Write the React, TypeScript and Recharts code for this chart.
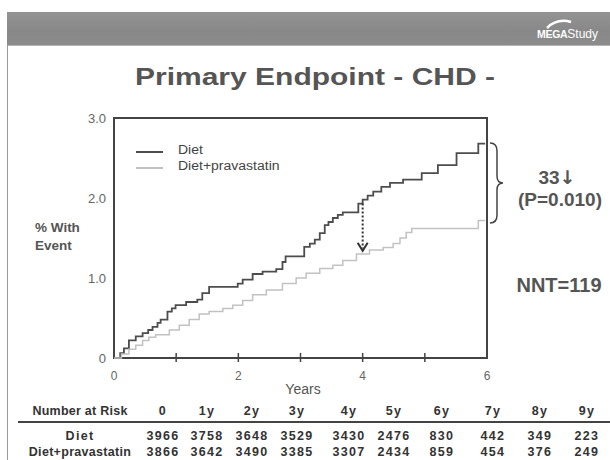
import React from 'react';
import { LineChart, Line, XAxis, YAxis, Legend, ReferenceArea, ReferenceLine, ReferenceDot } from 'recharts';

// cumulative % with CHD event
const dietYears = [0, 0.1, 0.16, 0.24, 0.35, 0.46, 0.55, 0.62, 0.7, 0.75, 0.86, 0.93, 0.99, 1.16, 1.34, 1.42, 1.53, 1.99, 2.07, 2.23, 2.39, 2.61, 2.71, 2.76, 3.06, 3.15, 3.23, 3.31, 3.39, 3.45, 3.52, 3.6, 3.68, 3.93, 4.0, 4.08, 4.17, 4.3, 4.44, 4.65, 4.95, 5.21, 5.51, 5.86, 5.97];
const dietPct = [0, 0.06, 0.12, 0.22, 0.27, 0.31, 0.35, 0.39, 0.44, 0.48, 0.58, 0.62, 0.66, 0.7, 0.73, 0.81, 0.89, 0.93, 0.98, 1.05, 1.08, 1.11, 1.2, 1.27, 1.39, 1.43, 1.48, 1.56, 1.66, 1.7, 1.75, 1.79, 1.82, 1.93, 1.98, 2.03, 2.08, 2.14, 2.19, 2.23, 2.31, 2.41, 2.56, 2.68, 2.68];

const pravaYears = [0, 0.12, 0.24, 0.35, 0.46, 0.56, 0.67, 0.89, 1.05, 1.21, 1.37, 1.53, 1.75, 1.91, 2.07, 2.23, 2.45, 2.71, 2.93, 3.09, 3.31, 3.52, 3.68, 3.9, 4.11, 4.33, 4.49, 4.6, 4.7, 4.79, 5.86, 5.97];
const pravaPct = [0, 0.05, 0.11, 0.16, 0.22, 0.26, 0.29, 0.35, 0.41, 0.48, 0.55, 0.58, 0.62, 0.66, 0.72, 0.79, 0.85, 0.93, 1.0, 1.06, 1.12, 1.16, 1.22, 1.3, 1.35, 1.38, 1.43, 1.5, 1.57, 1.62, 1.72, 1.72];

const xTicks = [0, 1, 2, 3, 4, 5, 6];
const yTicks = [0, 1, 2, 3];

// number at risk table
const riskHeaders = ['0', '1y', '2y', '3y', '4y', '5y', '6y', '7y', '8y', '9y'];
const dietRisk = [3966, 3758, 3648, 3529, 3430, 2476, 830, 442, 349, 223];
const pravaRisk = [3866, 3642, 3490, 3385, 3307, 2434, 859, 454, 376, 249];
const riskCols = [163, 207, 252, 297, 349, 394, 442, 493, 540, 587];

const series = [
  { name: 'Diet', color: '#4d4d4d', width: 1.8, years: dietYears, pct: dietPct },
  { name: 'Diet+pravastatin', color: '#c2c2c2', width: 1.5, years: pravaYears, pct: pravaPct },
];

const FONT = '"Liberation Sans", Arial, sans-serif';

const Txt = ({ x, y, size, children, weight = 'normal', color = '#555', sx = 1, left = false, ls = 0 }: any) => (
  <div
    style={{
      position: 'absolute',
      left: x,
      top: y,
      transform: left ? `translate(0,-50%) scaleX(${sx})` : `translate(-50%,-50%) scaleX(${sx})`,
      transformOrigin: left ? 'left center' : 'center center',
      fontSize: size,
      fontWeight: weight,
      color,
      letterSpacing: ls,
      whiteSpace: 'nowrap',
      lineHeight: 1,
      fontFamily: FONT,
    }}
  >
    {children}
  </div>
);

const XTick = ({ x, y, payload }: any) => {
  const v = payload.value;
  return (
    <g>
      {v > 0 && v < 6 && <line x1={x} x2={x} y1={y - 5} y2={y + 4} stroke="#444" strokeWidth={1.5} />}
      {v % 2 === 0 && (
        <text x={x} y={y + 22} textAnchor="middle" fontSize={12} fill="#666">
          {v}
        </text>
      )}
    </g>
  );
};

const LegendBox = () => (
  <div style={{ fontFamily: FONT }}>
    {series.map((s, i) => (
      <div key={s.name} style={{ position: 'absolute', left: 0, top: i * 16, height: 16, width: 200 }}>
        <div style={{ position: 'absolute', left: 0, top: 8, width: 27, height: 0, borderTop: `2px solid ${s.color}` }} />
        <div
          style={{
            position: 'absolute',
            left: 42,
            top: 1,
            fontSize: 12.5,
            color: '#444',
            lineHeight: 1,
            whiteSpace: 'nowrap',
            transform: 'scaleX(1.12)',
            transformOrigin: 'left center',
          }}
        >
          {s.name}
        </div>
      </div>
    ))}
  </div>
);

const Chevron = ({ cx, cy }: any) => (
  <path d={`M ${cx - 5} ${cy - 8} L ${cx} ${cy} L ${cx + 5} ${cy - 8}`} fill="none" stroke="#333" strokeWidth={2} />
);

export default function App() {
  return (
    <div style={{ position: 'absolute', left: 0, top: 0, width: 610, height: 460, background: '#fff', overflow: 'hidden', fontFamily: FONT }}>
      {/* banner */}
      <div style={{ position: 'absolute', left: 7, top: 12, width: 603, height: 33, background: 'linear-gradient(180deg,#939393,#888 60%,#8c8c8c)', borderBottom: '1px solid #b5b5b5' }} />
      <svg style={{ position: 'absolute', left: 545, top: 18 }} width="30" height="12">
        <path d="M 2 10 Q 12 0 26 4" fill="none" stroke="#fff" strokeWidth={2.5} />
      </svg>
      <div style={{ position: 'absolute', left: 537, top: 25, color: '#fff', whiteSpace: 'nowrap', lineHeight: 1 }}>
        <span style={{ fontSize: 10.5, fontWeight: 'bold', letterSpacing: -0.3 }}>MEGA</span>
        <span style={{ fontSize: 12 }}>Study</span>
      </div>
      <div style={{ position: 'absolute', left: 7, top: 45, width: 1, height: 415, background: '#9c9c9c' }} />

      <Txt x={315} y={77} size={24} weight="bold" color="#555" sx={1.25}>Primary Endpoint - CHD -</Txt>

      <LineChart width={610} height={460} margin={{ top: 118, right: 123, bottom: 72, left: 74 }} style={{ position: 'absolute', left: 0, top: 0 }}>
        <XAxis type="number" dataKey="year" domain={[0, 6]} ticks={xTicks} axisLine={false} tickLine={false} tickSize={0} tickMargin={0} height={30} tick={<XTick />} interval={0} />
        <YAxis type="number" domain={[0, 3]} ticks={yTicks} axisLine={false} tickLine={false} tickSize={0} tickMargin={8} width={40} tick={{ fontSize: 13, fill: '#666' }} tickFormatter={(v: number) => (v === 0 ? '0' : v.toFixed(1))} />
        <ReferenceArea x1={0} x2={6} y1={0} y2={3} fill="none" stroke="#444" strokeWidth={2} fillOpacity={0} />
        {series.map((s) => (
          <Line
            key={s.name}
            name={s.name}
            data={s.years.map((year, i) => ({ year, pct: s.pct[i] }))}
            dataKey="pct"
            type="stepAfter"
            stroke={s.color}
            strokeWidth={s.width}
            dot={false}
            activeDot={false}
            isAnimationActive={false}
          />
        ))}
        <ReferenceLine segment={[{ x: 4.0, y: 1.93 }, { x: 4.0, y: 1.37 }]} stroke="#333" strokeWidth={2} strokeDasharray="2 2" />
        <ReferenceDot x={4.0} y={1.34} r={0} shape={<Chevron />} />
        <Legend layout="vertical" align="center" verticalAlign="middle" wrapperStyle={{ left: 136, top: 143, width: 200, height: 34 }} content={() => <LegendBox />} />
      </LineChart>

      {/* brace + annotations */}
      <svg style={{ position: 'absolute', left: 0, top: 0 }} width="610" height="460">
        <path d="M 490 143 Q 497 143 497 151 L 497 176 Q 497 183 503 183 Q 497 183 497 190 L 497 215 Q 497 223 490 223" fill="none" stroke="#444" strokeWidth={1.5} />
      </svg>
      <Txt x={557} y={177} size={19} weight="bold">
        33<span style={{ fontFamily: '"DejaVu Sans", sans-serif', color: '#555' }}>↓</span>
      </Txt>
      <Txt x={560} y={199} size={19} weight="bold">(P=0.010)</Txt>
      <Txt x={559} y={285} size={20} weight="bold">NNT=119</Txt>

      <Txt x={35} y={228} size={13.5} weight="bold" color="#555" left>% With</Txt>
      <Txt x={35} y={246} size={13.5} weight="bold" color="#555" left>Event</Txt>
      <Txt x={303} y={389} size={14} color="#555">Years</Txt>

      {/* number at risk */}
      <Txt x={80} y={411} size={12.5} weight="bold" color="#333" ls={0.25}>Number at Risk</Txt>
      {riskHeaders.map((h, i) => (
        <Txt key={h} x={riskCols[i]} y={411} size={12.5} weight="bold" color="#333" ls={1.3}>{h}</Txt>
      ))}
      <div style={{ position: 'absolute', left: 18, top: 421, width: 592, height: 2, background: '#444' }} />
      <Txt x={80} y={436} size={12.5} weight="bold" color="#333" ls={1.3}>Diet</Txt>
      {dietRisk.map((n, i) => (
        <Txt key={'d' + i} x={riskCols[i]} y={436} size={12.5} weight="bold" color="#333" ls={1.3}>{n}</Txt>
      ))}
      <Txt x={80} y={452} size={12.5} weight="bold" color="#333" ls={0.3}>Diet+pravastatin</Txt>
      {pravaRisk.map((n, i) => (
        <Txt key={'p' + i} x={riskCols[i]} y={452} size={12.5} weight="bold" color="#333" ls={1.3}>{n}</Txt>
      ))}
    </div>
  );
}
